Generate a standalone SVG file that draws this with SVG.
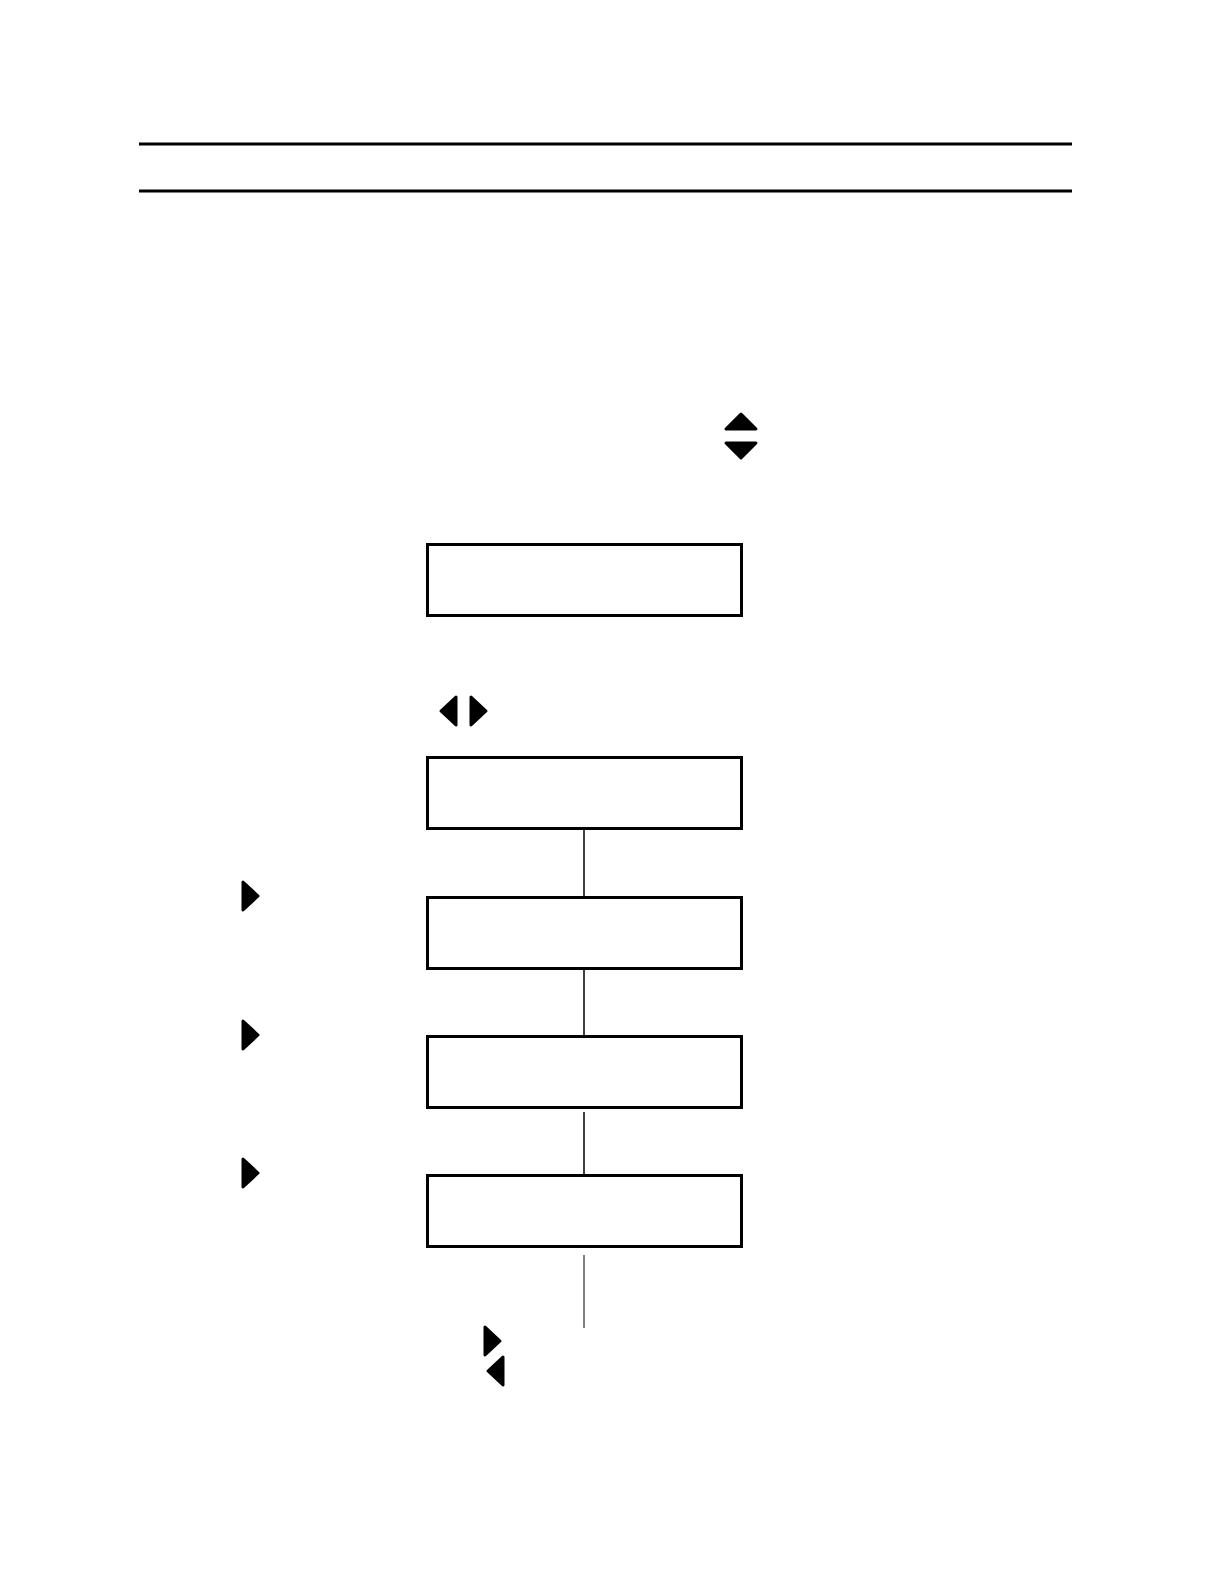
<svg xmlns="http://www.w3.org/2000/svg" xmlns:xlink="http://www.w3.org/1999/xlink" width="1224" height="1584" viewBox="0 0 1224 1584">
<style>
.rule{stroke:#000;stroke-width:3;fill:none}
.box{fill:#fff;stroke:#000;stroke-width:3}
.conn{stroke:#000;stroke-width:1.5;fill:none}
.tri{fill:#000;stroke:#000;stroke-width:3;stroke-linejoin:round}
</style>
<defs>
<path id="tr" class="tri" d="M0,-14 L15,0 L0,14 Z"/>
<path id="tl" class="tri" d="M0,-14 L-15,0 L0,14 Z"/>
<path id="tu" class="tri" d="M-15,0 L0,-15 L15,0 Z"/>
<path id="td" class="tri" d="M-15,0 L0,15 L15,0 Z"/>
</defs>
<rect width="1224" height="1584" fill="#fff"/>
<line class="rule" x1="139" y1="144" x2="1072" y2="144"/>
<line class="rule" x1="139" y1="191" x2="1072" y2="191"/>
<g id="updown">
<use xlink:href="#tu" x="741" y="429"/>
<use xlink:href="#td" x="741" y="443"/>
</g>
<g id="leftright">
<use xlink:href="#tl" x="456" y="711"/>
<use xlink:href="#tr" x="471" y="711"/>
</g>
<g id="connectors">
<line class="conn" x1="584" y1="829" x2="584" y2="896"/>
<line class="conn" x1="584" y1="969" x2="584" y2="1035"/>
<line class="conn" x1="584" y1="1112" x2="584" y2="1174"/>
<line class="conn" x1="584" y1="1255" x2="584" y2="1328" style="stroke-width:1"/>
</g>
<g id="node1"><rect class="box" x="427.5" y="544.5" width="314" height="71"/></g>
<g id="node2"><rect class="box" x="427.5" y="757.5" width="314" height="71"/></g>
<g id="node3"><rect class="box" x="427.5" y="897.5" width="314" height="71"/></g>
<g id="node4"><rect class="box" x="427.5" y="1036.5" width="314" height="71"/></g>
<g id="node5"><rect class="box" x="427.5" y="1175.5" width="314" height="71"/></g>
<g id="arrow1"><use xlink:href="#tr" x="243" y="896"/></g>
<g id="arrow2"><use xlink:href="#tr" x="243" y="1035"/></g>
<g id="arrow3"><use xlink:href="#tr" x="243" y="1173"/></g>
<g id="arrow4">
<use xlink:href="#tr" x="485" y="1341"/>
<use xlink:href="#tl" x="503" y="1371"/>
</g>
</svg>
